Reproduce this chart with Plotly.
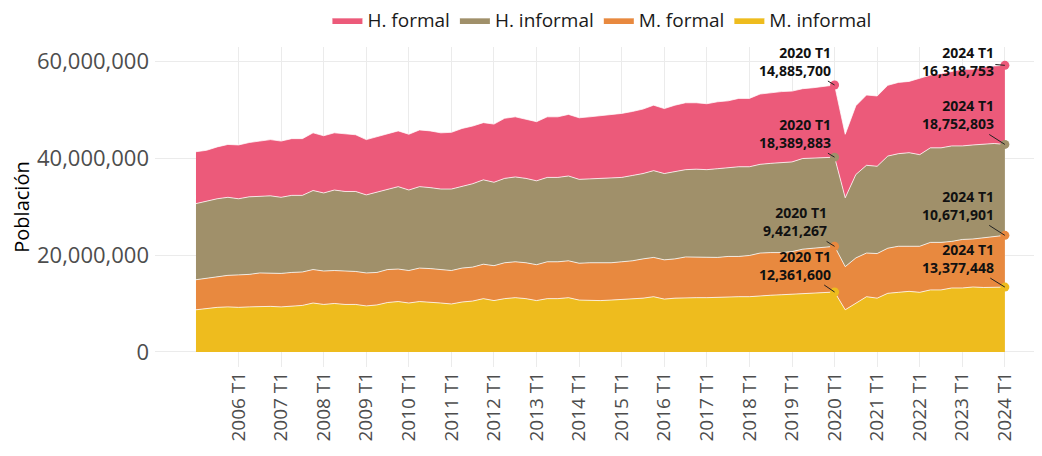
import plotly.graph_objects as go

# quarters 2005 T1 .. 2024 T1
quarters = [f"{y} T{q}" for y in range(2005, 2025) for q in range(1, 5)][:77]
year_ticks = [f"{y} T1" for y in range(2006, 2025)]

m_informal = [
    8700000, 9000000, 9200000, 9300000, 9200000, 9300000, 9400000, 9400000,
    9300000, 9500000, 9600000, 10100000, 9800000, 10000000, 9800000, 9800000,
    9500000, 9700000, 10200000, 10400000, 10100000, 10400000, 10300000, 10100000,
    9900000, 10300000, 10500000, 11000000, 10600000, 11000000, 11200000, 11000000,
    10600000, 11000000, 11000000, 11200000, 10700000, 10600000, 10600000, 10700000,
    10800000, 10900000, 11100000, 11400000, 10900000, 11100000, 11200000, 11200000,
    11200000, 11300000, 11400000, 11400000, 11400000, 11600000, 11700000, 11800000,
    11900000, 12100000, 12200000, 12300000, 12361600, 8700000, 10100000, 11400000,
    11100000, 12100000, 12300000, 12500000, 12300000, 12800000, 12800000, 13200000,
    13200000, 13400000, 13300000, 13400000, 13377448,
]
m_formal = [
    6200000, 6200000, 6400000, 6500000, 6700000, 6700000, 6900000, 6900000,
    6900000, 6900000, 6900000, 6900000, 6900000, 6800000, 6900000, 6800000,
    6800000, 6700000, 6800000, 6700000, 6700000, 6900000, 6900000, 6900000,
    6900000, 7000000, 7000000, 7100000, 7200000, 7400000, 7400000, 7400000,
    7400000, 7600000, 7600000, 7600000, 7600000, 7800000, 7800000, 7700000,
    7800000, 7900000, 8100000, 8100000, 8100000, 8100000, 8400000, 8400000,
    8300000, 8200000, 8300000, 8300000, 8500000, 8800000, 8800000, 8700000,
    8800000, 9100000, 9200000, 9300000, 9421267, 8900000, 9300000, 9000000,
    9200000, 9300000, 9500000, 9300000, 9500000, 9800000, 9800000, 9600000,
    10000000, 9900000, 10200000, 10300000, 10671901,
]
h_informal = [
    15700000, 15900000, 16000000, 16100000, 15700000, 16000000, 15800000, 15900000,
    15700000, 15900000, 15800000, 16300000, 16100000, 16600000, 16400000, 16500000,
    16100000, 16600000, 16500000, 17000000, 16600000, 16800000, 16700000, 16600000,
    16800000, 16800000, 17200000, 17400000, 17200000, 17400000, 17500000, 17400000,
    17300000, 17400000, 17400000, 17500000, 17300000, 17300000, 17400000, 17600000,
    17400000, 17600000, 17600000, 17900000, 17800000, 18000000, 18000000, 18100000,
    18100000, 18300000, 18300000, 18500000, 18300000, 18300000, 18400000, 18500000,
    18500000, 18700000, 18600000, 18600000, 18389883, 14200000, 17200000, 18100000,
    18000000, 19000000, 19100000, 19300000, 18900000, 19500000, 19500000, 19700000,
    19300000, 19400000, 19300000, 19300000, 18752803,
]
h_formal = [
    10700000, 10500000, 10700000, 10900000, 11100000, 11200000, 11400000, 11600000,
    11600000, 11700000, 11700000, 11900000, 11800000, 11800000, 11900000, 11700000,
    11400000, 11400000, 11600000, 11500000, 11500000, 11700000, 11700000, 11600000,
    11700000, 12000000, 11900000, 11800000, 12000000, 12400000, 12400000, 12200000,
    12200000, 12500000, 12500000, 12700000, 12700000, 12800000, 12900000, 12900000,
    13200000, 13200000, 13300000, 13500000, 13400000, 13700000, 13800000, 13700000,
    13600000, 13800000, 13800000, 14100000, 14100000, 14500000, 14600000, 14700000,
    14600000, 14400000, 14500000, 14600000, 14885700, 13100000, 14200000, 14500000,
    14500000, 14600000, 14700000, 14700000, 15700000, 15000000, 15300000, 15400000,
    15800000, 15600000, 16000000, 16000000, 16318753,
]

series = [
    ("M. informal", m_informal, "#eebc1e"),
    ("M. formal", m_formal, "#e8893f"),
    ("H. informal", h_informal, "#a0906a"),
    ("H. formal", h_formal, "#ec5a7a"),
]
highlight = ["2020 T1", "2024 T1"]
# label offsets (px) for the annotations, per series
offsets = {
    "2020 T1": {"M. informal": (-40, -27), "M. formal": (-40, -25),
                "H. informal": (-40, -24), "H. formal": (-40, -24)},
    "2024 T1": {"M. informal": (-47, -29), "M. formal": (-47, -30),
                "H. informal": (-47, -30), "H. formal": (-47, -4)},
}

fig = go.Figure()
base = [0] * len(quarters)
annotations = []
for name, vals, color in series:
    fig.add_trace(
        go.Scatter(
            x=quarters,
            y=vals,
            name=name,
            mode="lines",
            stackgroup="one",
            fillcolor=color,
            line={"color": "rgba(255,255,255,0.75)", "width": 1},
            hovertemplate="%{x}<br>" + name + ": %{y:,}<extra></extra>",
        )
    )
    top = [b + v for b, v in zip(base, vals)]
    idx = [quarters.index(q) for q in highlight]
    fig.add_trace(
        go.Scatter(
            x=highlight,
            y=[top[i] for i in idx],
            mode="markers",
            marker={"color": color, "size": 9},
            showlegend=False,
            hoverinfo="skip",
        )
    )
    for q, i in zip(highlight, idx):
        ax, ay = offsets[q][name]
        annotations.append(
            dict(
                x=q, y=top[i], text=f"<b>{q}</b><br><b>{vals[i]:,}</b>",
                showarrow=True, arrowhead=0, arrowwidth=1, arrowcolor="#222",
                ax=ax, ay=ay, align="right",
                font={"family": "Open Sans", "size": 14, "color": "#111"},
            )
        )
    base = top

# page body has an 8px margin, so the figure is sized a bit smaller
fig.update_layout(
    width=1034,
    height=448,
    margin={"l": 147, "r": 2, "t": 39, "b": 89},
    plot_bgcolor="white",
    paper_bgcolor="white",
    font={"family": "Open Sans", "color": "#4d4d4d"},
    showlegend=True,
    legend={
        "orientation": "h", "x": 0.505, "xanchor": "center",
        "yref": "container", "y": 0.973, "yanchor": "middle",
        "traceorder": "reversed",
        "font": {"size": 19, "color": "#1a1a1a"}, "itemwidth": 30,
    },
    annotations=annotations,
)
fig.update_xaxes(
    type="category",
    categoryorder="array",
    categoryarray=quarters,
    tickvals=year_ticks,
    tickangle=-90,
    tickfont={"size": 19, "color": "#4d4d4d"},
    range=[-3.85, 79.3],
    showgrid=True,
    gridcolor="#ebebeb",
    zeroline=False,
    showline=False,
    automargin=False,
)
fig.update_yaxes(
    range=[-3.1e6, 62.9e6],
    tickvals=[0, 20e6, 40e6, 60e6],
    tickformat=",d",
    tickfont={"size": 22, "color": "#4d4d4d"},
    ticklabelstandoff=5,
    title={"text": "Población", "font": {"size": 20, "color": "#000"}, "standoff": 2},
    showgrid=True,
    gridcolor="#ebebeb",
    zeroline=False,
    showline=False,
    automargin=False,
)

fig.write_html("out.html")
